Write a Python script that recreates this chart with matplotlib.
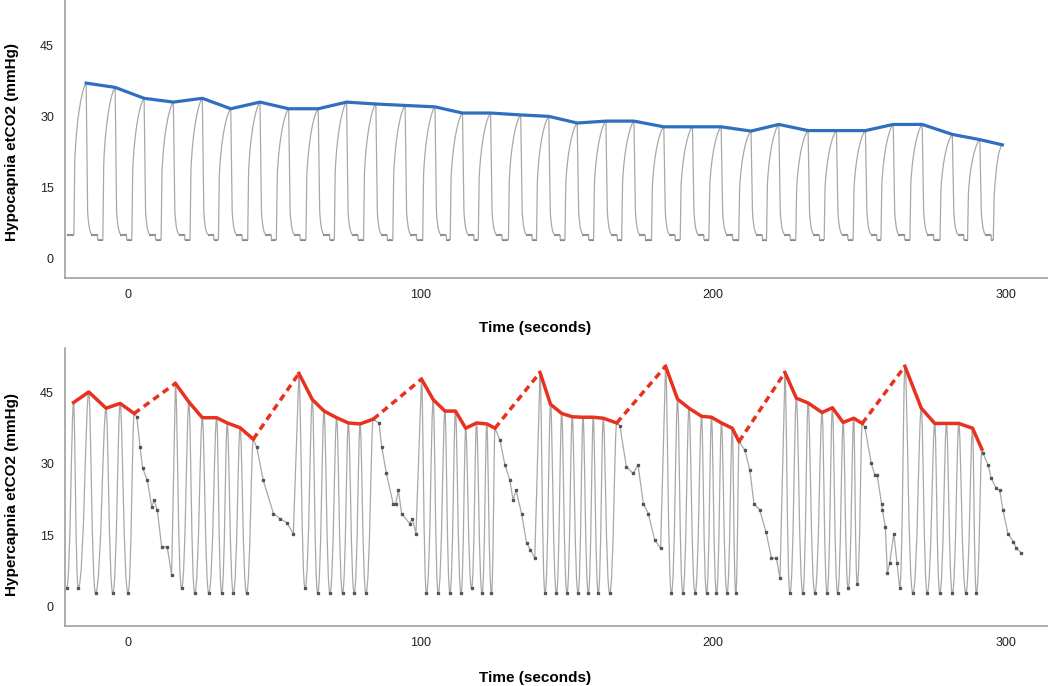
import numpy as np
import matplotlib
matplotlib.use("Agg")
import matplotlib.pyplot as plt
from matplotlib.path import Path
from matplotlib.patches import PathPatch

plt.rcParams['font.family'] = ['Liberation Sans', 'DejaVu Sans']

# ---- top panel: hypocapnia, end-tidal peaks of each breath (seconds, mmHg)
hypo_peak_t = [-14.3, -4.4, 5.5, 15.5, 25.4, 35.1, 45.1, 54.9, 65.0, 74.7,
               84.7, 94.7, 104.9, 114.3, 123.9, 134.2, 143.8, 153.5, 163.3,
               172.9, 183.1, 192.9, 202.7, 212.9, 222.4, 232.4, 242.1, 252.0,
               261.5, 271.4, 281.7, 291.1, 298.8]
hypo_peak_v = [37.0, 36.1, 33.8, 33.0, 33.8, 31.6, 33.0, 31.6, 31.6, 33.0,
               32.6, 32.3, 32.0, 30.7, 30.7, 30.3, 30.0, 28.6, 29.0,
               29.0, 27.8, 27.8, 27.8, 26.9, 28.3, 27.0, 27.0, 27.0,
               28.3, 28.3, 26.2, 25.1, 24.0]
hypo_start_t = -21.0
hypo_base_hi = 5.0
hypo_base_lo = 4.0

# ---- bottom panel: hypercapnia trace key points
# kind: p = breath peak (on envelope), t = trough, s = decline between runs
hyper_pts = [
    (-21.0, 3.9, 't'), (-18.6, 42.9, 'p'), (-17.0, 4.0, 't'), (-13.4, 45.1, 'p'),
    (-11.1, 2.9, 't'), (-7.5, 41.7, 'p'), (-5.2, 2.9, 't'), (-2.7, 42.7, 'p'),
    (0.0, 2.9, 't'), (2.1, 40.6, 'p'),
    (3.0, 39.9, 's'), (4.1, 33.6, 's'), (5.0, 29.1, 's'), (6.6, 26.6, 's'),
    (8.1, 21.0, 's'), (8.9, 22.4, 's'), (10.0, 20.3, 's'), (11.5, 12.6, 's'),
    (13.4, 12.6, 's'), (14.9, 6.7, 's'),
    (16.2, 46.9, 'p'), (18.3, 3.9, 't'), (20.8, 43.0, 'p'), (22.8, 2.9, 't'),
    (25.4, 39.7, 'p'), (27.6, 2.9, 't'), (30.3, 39.7, 'p'), (32.0, 2.9, 't'),
    (33.9, 38.6, 'p'), (36.0, 2.9, 't'), (38.3, 37.6, 'p'), (40.5, 2.9, 't'),
    (42.8, 35.2, 'p'),
    (44.0, 33.5, 's'), (46.2, 26.6, 's'), (49.7, 19.6, 's'), (52.0, 18.5, 's'),
    (54.2, 17.7, 's'), (56.5, 15.4, 's'),
    (58.4, 49.0, 'p'), (60.5, 3.9, 't'), (63.0, 43.5, 'p'), (64.8, 2.9, 't'),
    (67.0, 41.1, 'p'), (69.0, 2.9, 't'), (71.3, 39.7, 'p'), (73.3, 2.9, 't'),
    (75.3, 38.6, 'p'), (77.3, 2.9, 't'), (79.3, 38.4, 'p'), (81.3, 2.9, 't'),
    (83.8, 39.4, 'p'),
    (85.8, 38.5, 's'), (86.7, 33.6, 's'), (88.3, 28.0, 's'), (90.6, 21.7, 's'),
    (91.5, 21.7, 's'), (92.4, 24.5, 's'), (93.5, 19.6, 's'), (96.3, 17.5, 's'),
    (97.2, 18.5, 's'), (98.4, 15.4, 's'),
    (100.3, 47.8, 'p'), (102.0, 2.9, 't'), (104.3, 43.5, 'p'), (106.0, 2.9, 't'),
    (108.3, 41.1, 'p'), (110.0, 2.9, 't'), (111.9, 41.1, 'p'), (113.8, 2.9, 't'),
    (115.4, 37.5, 'p'), (117.4, 3.9, 't'), (119.1, 38.6, 'p'), (121.0, 2.9, 't'),
    (122.6, 38.4, 'p'), (124.2, 2.9, 't'), (125.4, 37.5, 'p'),
    (127.1, 35.0, 's'), (128.8, 29.8, 's'), (130.5, 26.6, 's'), (131.6, 22.4, 's'),
    (132.6, 24.5, 's'), (134.5, 19.6, 's'), (136.2, 13.4, 's'), (137.5, 12.0, 's'),
    (139.0, 10.2, 's'),
    (140.8, 49.2, 'p'), (142.5, 2.9, 't'), (144.4, 42.5, 'p'), (146.4, 2.9, 't'),
    (148.2, 40.6, 'p'), (150.0, 2.9, 't'), (151.8, 39.9, 'p'), (153.8, 2.9, 't'),
    (155.5, 39.8, 'p'), (157.3, 2.9, 't'), (159.0, 39.8, 'p'), (160.7, 2.9, 't'),
    (162.4, 39.6, 'p'), (164.6, 2.9, 't'), (167.0, 38.6, 'p'),
    (168.1, 38.0, 's'), (170.3, 29.4, 's'), (172.6, 28.0, 's'), (174.3, 29.8, 's'),
    (176.1, 21.7, 's'), (177.8, 19.6, 's'), (180.0, 14.0, 's'), (182.0, 12.3, 's'),
    (183.7, 50.5, 'p'), (185.7, 2.9, 't'), (187.8, 43.6, 'p'), (189.6, 2.9, 't'),
    (191.7, 41.7, 'p'), (193.8, 2.9, 't'), (196.0, 40.0, 'p'), (197.7, 2.9, 't'),
    (199.4, 39.8, 'p'), (201.1, 2.9, 't'), (202.8, 38.6, 'p'), (204.7, 2.9, 't'),
    (206.5, 37.5, 'p'), (207.7, 2.9, 't'), (208.8, 34.7, 'p'),
    (210.8, 32.9, 's'), (212.5, 28.7, 's'), (213.9, 21.7, 's'), (215.9, 20.3, 's'),
    (218.0, 15.8, 's'), (219.9, 10.2, 's'), (221.6, 10.2, 's'), (222.8, 6.0, 's'),
    (224.5, 49.2, 'p'), (226.2, 2.9, 't'), (228.4, 43.8, 'p'), (230.6, 2.9, 't'),
    (232.4, 42.8, 'p'), (234.7, 2.9, 't'), (237.2, 40.8, 'p'), (238.9, 2.9, 't'),
    (240.7, 41.8, 'p'), (242.5, 2.9, 't'), (244.4, 38.7, 'p'), (246.1, 3.9, 't'),
    (248.0, 39.6, 'p'), (249.2, 4.8, 't'), (250.9, 38.5, 'p'),
    (251.8, 37.8, 's'), (254.0, 30.1, 's'), (255.2, 27.7, 's'), (256.0, 27.7, 's'),
    (257.5, 21.7, 's'), (257.8, 20.3, 's'), (258.8, 16.8, 's'), (259.5, 7.1, 's'),
    (260.3, 9.2, 's'), (261.7, 15.4, 's'), (262.8, 9.2, 's'), (263.7, 3.9, 't'),
    (265.5, 50.5, 'p'), (268.2, 2.9, 't'), (271.1, 41.7, 'p'), (273.1, 2.9, 't'),
    (275.7, 38.5, 'p'), (277.4, 2.9, 't'), (279.7, 38.5, 'p'), (281.7, 2.9, 't'),
    (283.9, 38.5, 'p'), (286.3, 2.9, 't'), (288.6, 37.5, 'p'), (289.9, 2.9, 't'),
    (291.8, 33.1, 'p'),
    (292.2, 32.2, 's'), (293.9, 29.8, 's'), (295.0, 27.0, 's'), (296.7, 24.9, 's'),
    (297.9, 24.5, 's'), (299.0, 20.3, 's'), (300.7, 15.4, 's'), (302.5, 13.7, 's'),
    (303.6, 12.3, 's'), (305.3, 11.3, 's'),
]
hyper_t = [p[0] for p in hyper_pts]
hyper_v = [p[1] for p in hyper_pts]
hyper_kind = [p[2] for p in hyper_pts]

x_ticks = [0, 100, 200, 300]
y_ticks = [0, 15, 30, 45]

trace_col = '#a8a8a8'
base_col = '#6e6e6e'
blue = '#2f6fc0'
red = '#e8321f'


def style_axes(ax, ylabel, ylim):
    ax.set_xlim(-21.5, 314)
    ax.set_ylim(*ylim)
    for s in ['top', 'right']:
        ax.spines[s].set_visible(False)
    for s in ['left', 'bottom']:
        ax.spines[s].set_color('#a0a0a0')
        ax.spines[s].set_linewidth(1.2)
    ax.set_xticks(x_ticks)
    ax.set_yticks(y_ticks)
    ax.tick_params(length=0, labelsize=9, labelcolor='#222222')
    ax.tick_params(axis='y', pad=8)
    ax.tick_params(axis='x', pad=8)
    ax.set_ylabel(ylabel, fontsize=11, fontweight='bold')
    ax.set_xlabel('Time (seconds)', fontsize=11, fontweight='bold')
    ax.yaxis.set_label_coords(-0.047, 0.49)
    ax.xaxis.set_label_coords(0.479, -0.155)


fig = plt.figure(figsize=(10.5, 6.86), dpi=100)
ax1 = fig.add_axes([0.062, 0.595, 0.935, 0.405])
ax2 = fig.add_axes([0.062, 0.0875, 0.935, 0.405])

# ---- top trace, one breath after another
verts = [(hypo_start_t, hypo_base_hi)]
codes = [Path.MOVETO]
n = len(hypo_peak_t)
for i in range(n):
    tp, vp = hypo_peak_t[i], hypo_peak_v[i]
    tr = tp - 4.2 if i == 0 else max(tp - 4.2, hypo_peak_t[i - 1] + 4.6)
    if i == 0:
        verts += [(tr, hypo_base_hi)]
    else:
        verts += [(tr, hypo_base_lo)]
    codes += [Path.LINETO]
    verts += [(tr + 0.3, 0.55 * vp)]
    codes += [Path.LINETO]
    verts += [(tr + 0.9, 0.82 * vp), (tp - 1.2, 0.98 * vp), (tp, vp)]
    codes += [Path.CURVE4] * 3
    if i < n - 1:
        verts += [(tp + 0.5, 10.0)]
        codes += [Path.LINETO]
        verts += [(tp + 0.9, 6.0), (tp + 1.5, hypo_base_hi), (tp + 2.4, hypo_base_hi)]
        codes += [Path.CURVE4] * 3
        verts += [(tp + 3.9, hypo_base_hi), (tp + 3.9, hypo_base_lo)]
        codes += [Path.LINETO] * 2
        ax1.hlines(hypo_base_hi, tp + 1.8, tp + 3.9, color=base_col, lw=1.5, zorder=2)
        nxt = max(hypo_peak_t[i + 1] - 4.2, tp + 4.6)
        ax1.hlines(hypo_base_lo, tp + 3.9, nxt, color=base_col, lw=1.5, zorder=2)
ax1.hlines(hypo_base_hi, hypo_start_t, hypo_peak_t[0] - 4.2, color=base_col, lw=1.5, zorder=2)
ax1.add_patch(PathPatch(Path(verts, codes), facecolor='none', edgecolor=trace_col,
                        lw=0.9, zorder=2))
ax1.plot(hypo_peak_t, hypo_peak_v, color=blue, lw=2.3, solid_joinstyle='round', zorder=3)
style_axes(ax1, 'Hypocapnia etCO2 (mmHg)', (-4.0, 54.5))

# ---- bottom trace
verts = [(hyper_t[0], hyper_v[0])]
codes = [Path.MOVETO]
for k in range(1, len(hyper_t)):
    t0, v0, k0 = hyper_t[k - 1], hyper_v[k - 1], hyper_kind[k - 1]
    t1, v1, k1 = hyper_t[k], hyper_v[k], hyper_kind[k]
    if k0 != 's' and k1 != 's':
        dt = t1 - t0
        f0 = 0.55 if k0 == 't' else 0.3
        f1 = 0.55 if k1 == 't' else 0.3
        verts += [(t0 + f0 * dt, v0), (t1 - f1 * dt, v1), (t1, v1)]
        codes += [Path.CURVE4] * 3
    else:
        verts += [(t1, v1)]
        codes += [Path.LINETO]
ax2.add_patch(PathPatch(Path(verts, codes), facecolor='none', edgecolor=trace_col,
                        lw=0.9, zorder=2))

s_t = [t for t, k in zip(hyper_t, hyper_kind) if k == 's']
s_v = [v for v, k in zip(hyper_v, hyper_kind) if k == 's']
ax2.plot(s_t, s_v, color='#555555', lw=0.9, marker='s', ms=1.8, ls='none', zorder=2)
tr_t = [t for t, k in zip(hyper_t, hyper_kind) if k == 't']
tr_v = [v for v, k in zip(hyper_v, hyper_kind) if k == 't']
ax2.plot(tr_t, tr_v, color='#555555', marker='s', ms=1.6, ls='none', zorder=2)

# envelope: solid inside a run of breaths, dashed across each decline
runs = [[]]
for t, v, k in hyper_pts:
    if k == 'p':
        runs[-1].append((t, v))
    elif k == 's' and runs[-1]:
        runs.append([])
runs = [r for r in runs if r]
for r in runs:
    ax2.plot([p[0] for p in r], [p[1] for p in r], color=red, lw=2.5,
             solid_joinstyle='round', zorder=3)
for a, b in zip(runs[:-1], runs[1:]):
    ax2.plot([a[-1][0], b[0][0]], [a[-1][1], b[0][1]], color=red, lw=2.5,
             ls=(0, (2.0, 1.4)), zorder=3)
style_axes(ax2, 'Hypercapnia etCO2 (mmHg)', (-4.0, 54.3))
ax2.xaxis.set_label_coords(0.479, -0.162)
ax2.yaxis.set_label_coords(-0.047, 0.475)

fig.savefig('out.png', dpi=100)
